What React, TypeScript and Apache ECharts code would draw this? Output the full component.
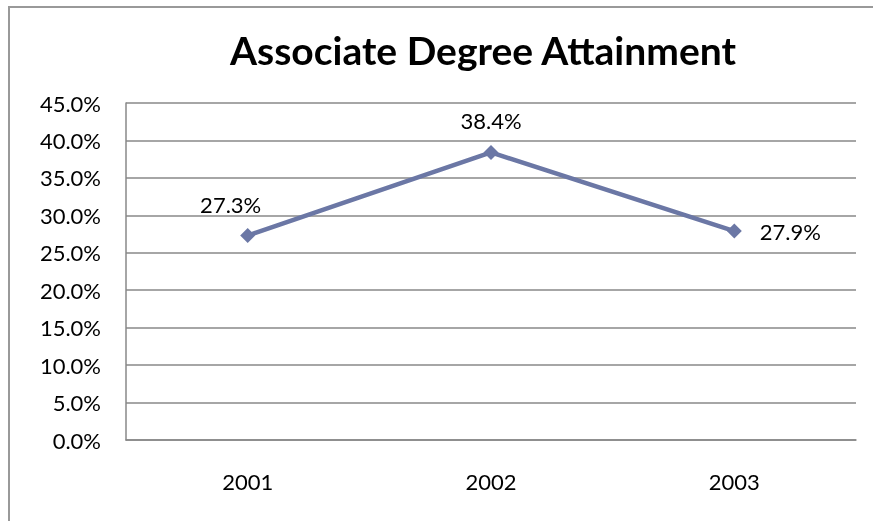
import React, { useEffect, useRef } from "react";
import * as echarts from "echarts";

const categories = ["2001", "2002", "2003"];
const values = [27.3, 38.4, 27.9];
const labelPositions = ["top", "top", "right"];

export default function App() {
  const ref = useRef<HTMLDivElement>(null);
  useEffect(() => {
    if (!ref.current) return;
    const chart = echarts.init(ref.current, null, { renderer: "svg" });
    const font = "Lato, 'Open Sans', sans-serif";
    chart.setOption({
      animation: false,
      graphic: [
        {
          type: "polyline",
          shape: { points: [[9, 521], [9, 7], [873, 7]] },
          style: { stroke: "#999", lineWidth: 2, fill: null },
        },
      ],
      title: {
        text: "Associate Degree Attainment",
        left: 478,
        top: 25,
        textAlign: "center",
        textStyle: { fontFamily: font, fontWeight: "bold", fontSize: 39, color: "#000" },
      },
      grid: { left: 126, right: 17, top: 103, bottom: 81 },
      xAxis: {
        type: "category",
        data: categories,
        boundaryGap: true,
        axisLine: { lineStyle: { color: "#888", width: 1.5 } },
        axisTick: { show: false },
        axisLabel: { fontFamily: font, fontSize: 22, color: "#000", margin: 30 },
      },
      yAxis: {
        type: "value",
        min: 0,
        max: 45,
        interval: 5,
        axisLine: { show: true, lineStyle: { color: "#888", width: 1.5 } },
        axisTick: { show: false },
        splitLine: { lineStyle: { color: "#888", width: 1.5 } },
        axisLabel: {
          fontFamily: font,
          fontSize: 22,
          color: "#000",
          margin: 25,
          formatter: (v: number) => v.toFixed(1) + "%",
        },
      },
      series: [
        {
          type: "line",
          data: values.map((v, i) => ({
            value: v,
            label: {
              position: labelPositions[i],
              offset: i === 0 ? [-17, -8] : i === 2 ? [13, 0] : [0, -8],
            },
          })),
          symbol: "diamond",
          symbolSize: 15,
          lineStyle: { color: "#6b77a5", width: 4.5 },
          itemStyle: { color: "#6b77a5" },
          label: {
            show: true,
            fontFamily: font,
            fontSize: 22,
            color: "#000",
            formatter: (p: any) => p.value.toFixed(1) + "%",
          },
        },
      ],
    });
    return () => chart.dispose();
  }, []);
  return <div ref={ref} style={{ position: "fixed", left: 0, top: 0, width: 873, height: 521 }} />;
}
